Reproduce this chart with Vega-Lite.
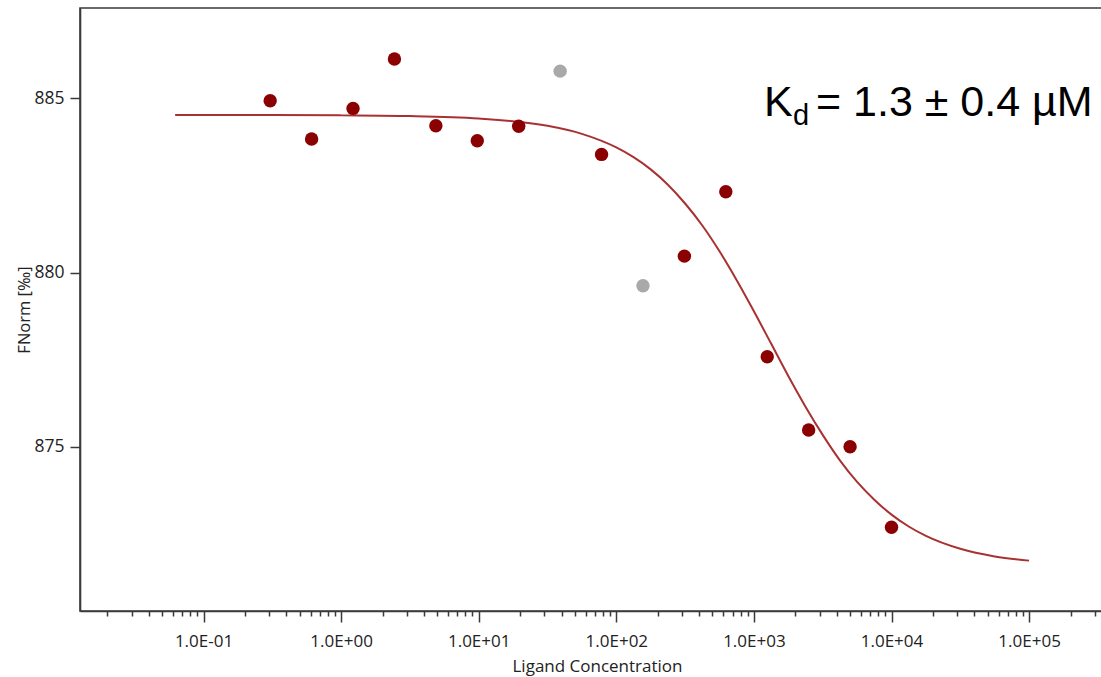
{
  "$schema": "https://vega.github.io/schema/vega-lite/v6.json",
  "width": 1034,
  "height": 603,
  "autosize": {"type": "none"},
  "padding": {"left": 80, "top": 8, "right": 0, "bottom": 66},
  "background": "white",
  "config": {
    "view": {"stroke": "#3a3a3a", "strokeWidth": 1.6},
    "font": "Open Sans"
  },
  "datasets": {
    "points": [
      {"conc": 0.30518, "fnorm": 884.93, "status": "included"},
      {"conc": 0.61035, "fnorm": 883.83, "status": "included"},
      {"conc": 1.2207, "fnorm": 884.71, "status": "included"},
      {"conc": 2.4414, "fnorm": 886.13, "status": "included"},
      {"conc": 4.8828, "fnorm": 884.21, "status": "included"},
      {"conc": 9.7656, "fnorm": 883.78, "status": "included"},
      {"conc": 19.531, "fnorm": 884.2, "status": "included"},
      {"conc": 39.063, "fnorm": 885.78, "status": "excluded"},
      {"conc": 78.125, "fnorm": 883.39, "status": "included"},
      {"conc": 156.25, "fnorm": 879.62, "status": "excluded"},
      {"conc": 312.5, "fnorm": 880.47, "status": "included"},
      {"conc": 625, "fnorm": 882.32, "status": "included"},
      {"conc": 1250, "fnorm": 877.58, "status": "included"},
      {"conc": 2500, "fnorm": 875.48, "status": "included"},
      {"conc": 5000, "fnorm": 875.0, "status": "included"},
      {"conc": 10000, "fnorm": 872.69, "status": "included"}
    ],
    "curve": [
      {"conc": 0.0622, "fnorm": 884.52},
      {"conc": 0.1, "fnorm": 884.52},
      {"conc": 0.3162, "fnorm": 884.52},
      {"conc": 1, "fnorm": 884.51},
      {"conc": 3.162, "fnorm": 884.49},
      {"conc": 10, "fnorm": 884.42},
      {"conc": 31.62, "fnorm": 884.21},
      {"conc": 56.23, "fnorm": 883.98},
      {"conc": 100, "fnorm": 883.59},
      {"conc": 133.4, "fnorm": 883.31},
      {"conc": 177.8, "fnorm": 882.96},
      {"conc": 237.1, "fnorm": 882.52},
      {"conc": 316.2, "fnorm": 881.98},
      {"conc": 421.7, "fnorm": 881.35},
      {"conc": 562.3, "fnorm": 880.61},
      {"conc": 749.9, "fnorm": 879.78},
      {"conc": 1000, "fnorm": 878.89},
      {"conc": 1333.5, "fnorm": 877.96},
      {"conc": 1778, "fnorm": 877.03},
      {"conc": 2371, "fnorm": 876.15},
      {"conc": 3162, "fnorm": 875.34},
      {"conc": 4217, "fnorm": 874.61},
      {"conc": 5623, "fnorm": 873.99},
      {"conc": 7499, "fnorm": 873.48},
      {"conc": 10000, "fnorm": 873.05},
      {"conc": 13335, "fnorm": 872.71},
      {"conc": 17783, "fnorm": 872.44},
      {"conc": 31623, "fnorm": 872.07},
      {"conc": 56234, "fnorm": 871.85},
      {"conc": 100000, "fnorm": 871.73}
    ],
    "note": [{"label": "Kd"}]
  },
  "layer": [
    {
      "data": {"name": "curve"},
      "mark": {"type": "line", "color": "#a83232", "strokeWidth": 2, "interpolate": "monotone"},
      "encoding": {
        "x": {
          "field": "conc",
          "type": "quantitative",
          "scale": {"type": "log", "domain": [0.01266, 414000], "nice": false},
          "axis": {
            "title": "Ligand Concentration",
            "values": [0.02, 0.03, 0.04, 0.05, 0.06, 0.07, 0.08, 0.09, 0.1, 0.2, 0.3, 0.4, 0.5, 0.6, 0.7, 0.8, 0.9, 1, 2, 3, 4, 5, 6, 7, 8, 9, 10, 20, 30, 40, 50, 60, 70, 80, 90, 100, 200, 300, 400, 500, 600, 700, 800, 900, 1000, 2000, 3000, 4000, 5000, 6000, 7000, 8000, 9000, 10000, 20000, 30000, 40000, 50000, 60000, 70000, 80000, 90000, 100000, 200000, 300000, 400000],
            "labelExpr": "abs(log(datum.value)/LN10 - round(log(datum.value)/LN10)) < 0.001 ? '1.0E' + (round(log(datum.value)/LN10) < 0 ? '-' : '+') + '0' + abs(round(log(datum.value)/LN10)) : ''",
            "labelOverlap": false,
            "labelFlush": false,
            "grid": false,
            "domainColor": "#3a3a3a",
            "domainWidth": 1.6,
            "tickColor": "#3a3a3a",
            "tickWidth": 1.5,
            "tickSize": {"condition": {"test": "abs(log(datum.value)/LN10 - round(log(datum.value)/LN10)) < 0.001", "value": 11}, "value": 5},
            "labelFontSize": 17,
            "labelColor": "#222222",
            "labelPadding": 11,
            "titleFontSize": 17,
            "titleColor": "#222222",
            "titleFontWeight": "normal",
            "titlePadding": 9
          }
        },
        "y": {
          "field": "fnorm",
          "type": "quantitative",
          "scale": {"domain": [870.284, 887.592], "nice": false, "zero": false},
          "axis": {
            "title": "FNorm [‰]",
            "values": [875, 880, 885],
            "grid": false,
            "domainColor": "#3a3a3a",
            "domainWidth": 1.6,
            "tickColor": "#3a3a3a",
            "tickWidth": 1.5,
            "tickSize": 10,
            "labelFontSize": 17.5,
            "labelColor": "#222222",
            "labelPadding": 6,
            "titleFontSize": 16.5,
            "titleColor": "#222222",
            "titleFontWeight": "normal",
            "titlePadding": 1
          }
        }
      }
    },
    {
      "data": {"name": "points"},
      "mark": {"type": "circle", "size": 180, "opacity": 1},
      "encoding": {
        "x": {"field": "conc", "type": "quantitative"},
        "y": {"field": "fnorm", "type": "quantitative"},
        "color": {
          "field": "status",
          "type": "nominal",
          "scale": {"domain": ["included", "excluded"], "range": ["#8b0000", "#a9a9a9"]},
          "legend": null
        }
      }
    },
    {
      "data": {"name": "note"},
      "mark": {"type": "text", "font": "Liberation Sans", "fontSize": 43, "align": "left", "baseline": "alphabetic", "color": "#000000"},
      "encoding": {
        "x": {"datum": 1184, "type": "quantitative"},
        "y": {"datum": 884.49, "type": "quantitative"},
        "text": {"value": "K"}
      }
    },
    {
      "data": {"name": "note"},
      "mark": {"type": "text", "font": "Liberation Sans", "fontSize": 29, "align": "left", "baseline": "alphabetic", "color": "#000000"},
      "encoding": {
        "x": {"datum": 1923, "type": "quantitative"},
        "y": {"datum": 884.23, "type": "quantitative"},
        "text": {"value": "d"}
      }
    },
    {
      "data": {"name": "note"},
      "mark": {"type": "text", "font": "Liberation Sans", "fontSize": 43, "align": "left", "baseline": "alphabetic", "color": "#000000"},
      "encoding": {
        "x": {"datum": 2827, "type": "quantitative"},
        "y": {"datum": 884.49, "type": "quantitative"},
        "text": {"value": "= 1.3 ± 0.4 µM"}
      }
    }
  ]
}
